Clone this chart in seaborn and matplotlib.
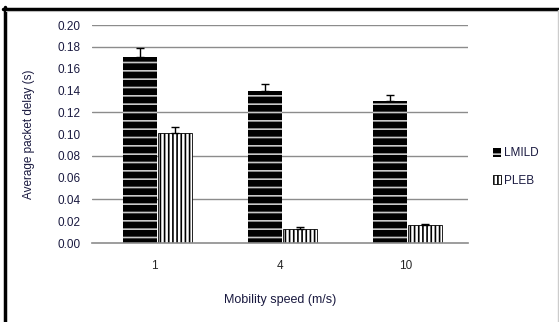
import matplotlib
matplotlib.use("Agg")
import matplotlib.pyplot as plt
from matplotlib.lines import Line2D
from matplotlib.patches import Patch
import numpy as np
import pandas as pd
import seaborn as sns

# Data
speeds = ["1", "4", "10"]
protocols = ["LMILD", "PLEB"]
lmild_delay = [0.171, 0.139, 0.130]
pleb_delay = [0.101, 0.013, 0.0165]
lmild_err = [0.008, 0.007, 0.006]
pleb_err = [0.005, 0.002, 0.001]
y_ticks = [0.00, 0.02, 0.04, 0.06, 0.08, 0.10, 0.12, 0.14, 0.16, 0.18, 0.20]
grid_levels = [0.04, 0.08, 0.12, 0.18, 0.20]

df = pd.DataFrame({
    "speed": speeds * 2,
    "protocol": [protocols[0]] * 3 + [protocols[1]] * 3,
    "delay": lmild_delay + pleb_delay,
})

sns.set_style("white")
plt.rcParams["font.family"] = ["Liberation Sans", "DejaVu Sans"]
plt.rcParams["hatch.linewidth"] = 1.2

fig = plt.figure(figsize=(5.59, 3.22), dpi=100)
ax = fig.add_axes([92 / 559, 1 - 243 / 322, 376 / 559, 218 / 322])

# horizontal grid lines behind the bars
for g in grid_levels:
    ax.axhline(g, color="#8c8c8c", lw=1.0, zorder=0)

sns.barplot(data=df, x="speed", y="delay", hue="protocol", order=speeds,
            hue_order=protocols, width=0.56, gap=0.03, errorbar=None,
            legend=False, ax=ax, zorder=2)

styles = {
    "LMILD": dict(fc="black", ec="#c8c8c8", hatch="--", lw=0),
    "PLEB": dict(fc="white", ec="black", hatch="||||", lw=0.6),
}
errs = {"LMILD": lmild_err, "PLEB": pleb_err}
vals = {"LMILD": lmild_delay, "PLEB": pleb_delay}
for cont, name in zip(ax.containers, protocols):
    st = styles[name]
    xs = []
    for bar in cont:
        bar.set_facecolor(st["fc"])
        bar.set_edgecolor(st["ec"])
        bar.set_hatch(st["hatch"])
        bar.set_linewidth(st["lw"])
        bar.set_x(bar.get_x() + 0.02)
        xs.append(bar.get_x() + bar.get_width() / 2)
    ax.errorbar(xs, vals[name], yerr=[np.zeros(3), errs[name]], fmt="none",
                ecolor="black", elinewidth=1.0, capsize=3, capthick=1.0, zorder=3)

ax.set_ylim(0, 0.20)
ax.set_xlim(-0.5, 2.5)
ax.set_yticks(y_ticks)
ax.set_yticklabels([f"{t:.2f}" for t in y_ticks])
ax.tick_params(axis="y", length=0, pad=8, labelsize=8.5, labelcolor="#1a1a40")
ax.set_xticks([0, 1, 2])
ax.set_xticklabels(speeds)
ax.set_xticks([-0.5, 0.5, 1.5, 2.5], minor=True)
ax.tick_params(axis="x", which="major", length=0, pad=12, labelsize=8.5)
ax.tick_params(axis="x", which="minor", length=3, width=1, color="#8c8c8c",
               direction="out")

for s in ["top", "right", "left"]:
    ax.spines[s].set_visible(False)
ax.spines["bottom"].set_color("#8c8c8c")
ax.spines["bottom"].set_linewidth(1.2)

ax.set_xlabel("Mobility speed (m/s)", fontsize=9, labelpad=16, color="#1a1a40")
ax.set_ylabel("")
fig.text(29 / 559, 1 - 134 / 322, "Average packet delay (s)", rotation=90,
         ha="center", va="center", fontsize=8.5, color="#1a1a40")

handles = [Patch(facecolor=styles[p]["fc"], edgecolor=styles[p]["ec"],
                 hatch=styles[p]["hatch"], linewidth=styles[p]["lw"])
           for p in protocols]
fig.legend(handles, protocols, loc="center left",
           bbox_to_anchor=(482 / 559, 1 - 167 / 322), frameon=False,
           fontsize=8.5, handlelength=0.7, handleheight=0.8, handletextpad=0.3,
           labelspacing=1.3, labelcolor="#1a1a40")

# frame around the figure
fig.add_artist(Line2D([3 / 559, 1], [1 - 8.5 / 322] * 2, color="black", lw=2.5,
                      transform=fig.transFigure))
fig.add_artist(Line2D([4.5 / 559] * 2, [0, 1 - 7 / 322], color="black", lw=2.5,
                      transform=fig.transFigure))
fig.add_artist(Line2D([6 / 559, 1], [1 - 11 / 322] * 2, color="#bbbbbb", lw=0.8,
                      transform=fig.transFigure))
fig.add_artist(Line2D([557.5 / 559] * 2, [0, 1 - 10 / 322], color="#cccccc",
                      lw=1.0, transform=fig.transFigure))

fig.savefig("out.png", dpi=100)
